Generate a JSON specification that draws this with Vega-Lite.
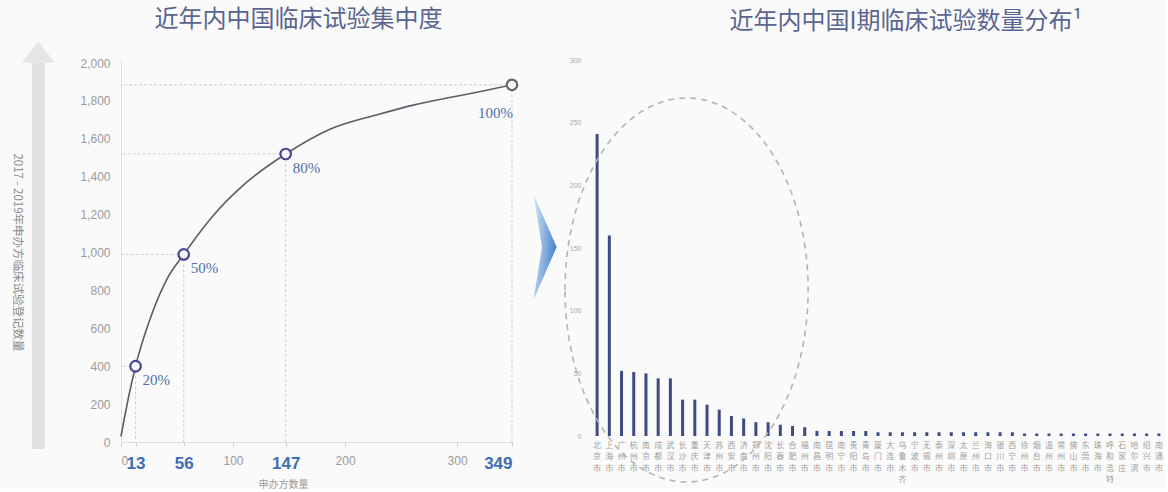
{
  "$schema": "https://vega.github.io/schema/vega-lite/v6.json",
  "background": "#fafafa",
  "padding": {"left": 10, "top": 8, "right": 0, "bottom": 0},
  "spacing": 79,
  "bounds": "flush",
  "config": {
    "view": {"stroke": null},
    "font": "Noto Sans CJK SC",
    "title": {"font": "Noto Sans CJK SC", "fontSize": 24, "fontWeight": "normal", "color": "#5a6590", "anchor": "middle", "frame": "group"}
  },
  "datasets": {
    "curve": [
      {"n": 0, "cum": 30},
      {"n": 7, "cum": 244},
      {"n": 13, "cum": 400},
      {"n": 26, "cum": 650},
      {"n": 41, "cum": 860},
      {"n": 56, "cum": 990},
      {"n": 82, "cum": 1193},
      {"n": 112, "cum": 1370},
      {"n": 147, "cum": 1520},
      {"n": 187, "cum": 1652},
      {"n": 231, "cum": 1731},
      {"n": 261, "cum": 1778},
      {"n": 291, "cum": 1815},
      {"n": 321, "cum": 1850},
      {"n": 349, "cum": 1885}
    ],
    "milestones": [
      {"n": 13, "cum": 400, "pct": "20%"},
      {"n": 56, "cum": 990, "pct": "50%"},
      {"n": 147, "cum": 1520, "pct": "80%"},
      {"n": 349, "cum": 1885, "pct": "100%"}
    ],
    "anchor": [{}],
    "cities": [
      {"city": "北京市", "trials": 241},
      {"city": "上海市", "trials": 160},
      {"city": "广州市", "trials": 52},
      {"city": "杭州市", "trials": 51},
      {"city": "南京市", "trials": 50},
      {"city": "成都市", "trials": 46},
      {"city": "武汉市", "trials": 46},
      {"city": "长沙市", "trials": 29},
      {"city": "重庆市", "trials": 29},
      {"city": "天津市", "trials": 25},
      {"city": "苏州市", "trials": 21},
      {"city": "西安市", "trials": 16},
      {"city": "济南市", "trials": 14},
      {"city": "郑州市", "trials": 11},
      {"city": "沈阳市", "trials": 11},
      {"city": "长春市", "trials": 9},
      {"city": "合肥市", "trials": 8},
      {"city": "福州市", "trials": 7},
      {"city": "南昌市", "trials": 4},
      {"city": "昆明市", "trials": 4},
      {"city": "南宁市", "trials": 4},
      {"city": "贵阳市", "trials": 4},
      {"city": "青岛市", "trials": 4},
      {"city": "厦门市", "trials": 3},
      {"city": "大连市", "trials": 3},
      {"city": "乌鲁木齐", "trials": 3},
      {"city": "宁波市", "trials": 3},
      {"city": "无锡市", "trials": 3},
      {"city": "泰州市", "trials": 3},
      {"city": "深圳市", "trials": 3},
      {"city": "太原市", "trials": 3},
      {"city": "兰州市", "trials": 3},
      {"city": "海口市", "trials": 3},
      {"city": "银川市", "trials": 3},
      {"city": "西宁市", "trials": 3},
      {"city": "徐州市", "trials": 2},
      {"city": "烟台市", "trials": 2},
      {"city": "温州市", "trials": 2},
      {"city": "常州市", "trials": 2},
      {"city": "佛山市", "trials": 2},
      {"city": "东莞市", "trials": 2},
      {"city": "珠海市", "trials": 2},
      {"city": "呼和浩特", "trials": 2},
      {"city": "石家庄", "trials": 2},
      {"city": "哈尔滨", "trials": 2},
      {"city": "绍兴市", "trials": 2},
      {"city": "南通市", "trials": 2}
    ]
  },
  "hconcat": [
    {
      "width": 391,
      "height": 382,
      "title": {"text": "近年内中国临床试验集中度", "dx": -18, "offset": 9},
      "layer": [
        {
          "data": {"name": "curve"},
          "mark": {"type": "line", "interpolate": "monotone", "color": "#5c5c68", "strokeWidth": 1.6},
          "encoding": {
            "x": {
              "field": "n", "type": "quantitative",
              "scale": {"domain": [0, 349], "nice": false, "zero": false},
              "axis": {
                "values": [0, 13, 56, 100, 147, 200, 300, 349],
                "tickCount": 20,
                "labelOverlap": false,
                "grid": false,
                "domainColor": "#dcdcdc",
                "tickColor": "#cccccc",
                "tickSize": 4,
                "labelPadding": 9,
                "labelFont": "Liberation Sans",
                "labelColor": {"condition": {"test": "indexof([13, 56, 147, 349], datum.value) >= 0", "value": "#3d6eb4"}, "value": "#9a9a9a"},
                "labelFontSize": {"condition": {"test": "indexof([13, 56, 147, 349], datum.value) >= 0", "value": 17}, "value": 12},
                "labelFontWeight": {"condition": {"test": "indexof([13, 56, 147, 349], datum.value) >= 0", "value": "bold"}, "value": "normal"},
                "title": "申办方数量",
                "titleColor": "#9a9a9a",
                "titleFontSize": 10,
                "titleFontWeight": "normal",
                "titleX": 162,
                "titleY": 42,
                "titleAlign": "center",
                "titleBaseline": "middle"
              }
            },
            "y": {
              "field": "cum", "type": "quantitative",
              "scale": {"domain": [0, 2016], "nice": false},
              "axis": {
                "values": [0, 200, 400, 600, 800, 1000, 1200, 1400, 1600, 1800, 2000],
                "tickCount": 20,
                "labelExpr": "format(datum.value, ',')",
                "labelOverlap": false,
                "grid": false,
                "ticks": false,
                "domainColor": "#e0e0e0",
                "labelPadding": 11,
                "labelFont": "Liberation Sans",
                "labelFontSize": 12,
                "labelColor": "#9a9a9a",
                "title": "2017 - 2019年申办方临床试验登记数量",
                "titleAngle": 90,
                "titleX": -105,
                "titleY": 192,
                "titleAlign": "center",
                "titleBaseline": "middle",
                "titleFontSize": 11.5,
                "titleFontWeight": "normal",
                "titleColor": "#8a8a8a"
              }
            }
          }
        },
        {
          "data": {"name": "anchor"},
          "mark": {"type": "rule", "color": "#e2e2e2", "strokeWidth": 13},
          "encoding": {
            "x": {"datum": -73.7, "type": "quantitative"},
            "y": {"datum": -37, "type": "quantitative"},
            "y2": {"datum": 2030}
          }
        },
        {
          "data": {"name": "anchor"},
          "mark": {"type": "point", "filled": true, "color": "#e6e6e6", "opacity": 1, "size": 1089, "shape": "M 0 -0.65 L 1 0.65 L -1 0.65 Z"},
          "encoding": {
            "x": {"datum": -73.7, "type": "quantitative"},
            "y": {"datum": 2058, "type": "quantitative"}
          }
        },
        {
          "data": {"name": "anchor"},
          "mark": {
            "type": "point", "filled": true, "opacity": 1, "size": 11025,
            "shape": "M -0.22 -1 L 0.22 0 L -0.22 1 L -0.06 0 Z",
            "fill": {"gradient": "linear", "x1": 0, "y1": 0, "x2": 1, "y2": 0.3, "stops": [{"offset": 0, "color": "#d8e6f5"}, {"offset": 1, "color": "#4a88cc"}]}
          },
          "encoding": {
            "x": {"datum": 378.6, "type": "quantitative"},
            "y": {"datum": 1029, "type": "quantitative"}
          }
        },
        {
          "data": {"name": "milestones"},
          "mark": {"type": "rule", "color": "#cfcfcf", "strokeWidth": 1, "strokeDash": [3, 2]},
          "encoding": {
            "x": {"field": "n", "type": "quantitative"},
            "x2": {"datum": 0},
            "y": {"field": "cum", "type": "quantitative"}
          }
        },
        {
          "data": {"name": "milestones"},
          "mark": {"type": "rule", "color": "#cfcfcf", "strokeWidth": 1, "strokeDash": [3, 2]},
          "encoding": {
            "x": {"field": "n", "type": "quantitative"},
            "y": {"field": "cum", "type": "quantitative"},
            "y2": {"datum": 0}
          }
        },
        {
          "data": {"name": "milestones"},
          "mark": {"type": "point", "filled": false, "fill": "#f7f7fb", "strokeWidth": 2.2, "size": 110, "opacity": 1},
          "encoding": {
            "x": {"field": "n", "type": "quantitative"},
            "y": {"field": "cum", "type": "quantitative"},
            "stroke": {"condition": {"test": "datum.n == 349", "value": "#686868"}, "value": "#4a4890"}
          }
        },
        {
          "data": {"name": "milestones"},
          "transform": [{"filter": "datum.n < 349"}],
          "mark": {"type": "text", "align": "left", "baseline": "middle", "dx": 7, "dy": 14, "font": "Liberation Serif", "fontSize": 15, "color": "#4f6da6"},
          "encoding": {
            "x": {"field": "n", "type": "quantitative"},
            "y": {"field": "cum", "type": "quantitative"},
            "text": {"field": "pct"}
          }
        },
        {
          "data": {"name": "milestones"},
          "transform": [{"filter": "datum.n == 349"}],
          "mark": {"type": "text", "align": "right", "baseline": "middle", "dx": 1, "dy": 28, "font": "Liberation Serif", "fontSize": 15, "color": "#4f6da6"},
          "encoding": {
            "x": {"field": "n", "type": "quantitative"},
            "y": {"field": "cum", "type": "quantitative"},
            "text": {"field": "pct"}
          }
        }
      ]
    },
    {
      "width": 574,
      "height": 376,
      "title": {"text": "近年内中国I期临床试验数量分布¹", "dx": 28, "offset": 22},
      "layer": [
        {
          "data": {"name": "cities"},
          "mark": {"type": "bar", "width": 3, "color": "#3e4a82"},
          "encoding": {
            "x": {
              "field": "city", "type": "nominal", "sort": null,
              "scale": {"paddingInner": 0, "paddingOuter": 0},
              "axis": {
                "labelExpr": "split(datum.label, '')",
                "labelAngle": 0,
                "labelFontSize": 8,
                "labelLineHeight": 11.5,
                "labelColor": "#a0a0a0",
                "labelPadding": 5,
                "labelOverlap": false,
                "labelBaseline": "top",
                "domain": false,
                "ticks": false,
                "title": null
              }
            },
            "y": {
              "field": "trials", "type": "quantitative",
              "scale": {"domain": [0, 300], "nice": false},
              "axis": {
                "values": [0, 50, 100, 150, 200, 250, 300],
                "tickCount": 20,
                "labelOverlap": false,
                "grid": false,
                "domain": false,
                "ticks": false,
                "labelFont": "Liberation Sans",
                "labelFontSize": 7,
                "labelColor": "#a8a8a8",
                "labelPadding": 10,
                "title": null
              }
            }
          }
        },
        {
          "data": {"name": "anchor"},
          "mark": {
            "type": "point", "filled": false, "opacity": 1, "size": 147456,
            "shape": "M -0.633 0 A 0.633 1 0 1 1 0.633 0 A 0.633 1 0 1 1 -0.633 0 Z",
            "stroke": "#b4b4b4", "strokeWidth": 1.6, "strokeDash": [6, 5], "xOffset": 4
          },
          "encoding": {
            "x": {"datum": "长沙市", "type": "nominal"},
            "y": {"datum": 116.5, "type": "quantitative"}
          }
        }
      ]
    }
  ]
}
